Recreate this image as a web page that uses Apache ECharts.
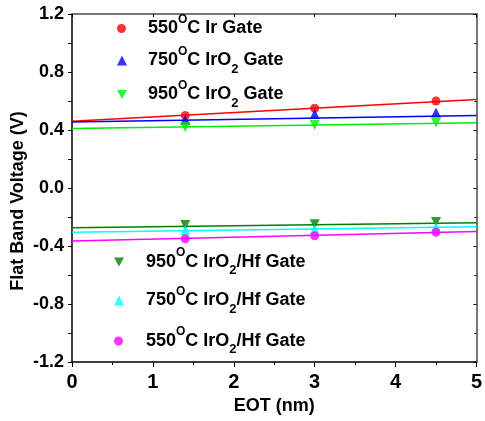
<!DOCTYPE html>
<html>
<head>
<meta charset="utf-8">
<script src="https://cdn.jsdelivr.net/npm/echarts@6/dist/echarts.min.js"></script>
<style>
  html, body { margin: 0; padding: 0; background: #fff; }
  #chart { width: 485px; height: 421px; }
</style>
</head>
<body>
<div id="chart"></div>
<script>
// EOT positions of the measured samples (nm)
const eot = [1.4, 3.0, 4.5]

// flat band voltages (V)
const ir550 = [0.50, 0.55, 0.60]
const iro2_750 = [0.47, 0.51, 0.52]
const iro2_950 = [0.42, 0.435, 0.45]
const hf950 = [-0.255, -0.25, -0.235]
const hf750 = [-0.29, -0.285, -0.27]
const hf550 = [-0.35, -0.33, -0.305]

// fitted lines, value at EOT = 0 and EOT = 5
const fitX = [0, 5]
const fitIr550 = [0.46, 0.61]
const fitIro2_750 = [0.455, 0.50]
const fitIro2_950 = [0.41, 0.45]
const fitHf950 = [-0.274, -0.24]
const fitHf750 = [-0.306, -0.267]
const fitHf550 = [-0.366, -0.30]

const yTicks = ['-1.2', '-0.8', '-0.4', '0.0', '0.4', '0.8', '1.2']

const downTri = 'path://M0,0 L10,0 L5,9 Z'
const font = 'Liberation Sans'

const names = [
    '550°C Ir Gate', '750°C IrO2 Gate', '950°C IrO2 Gate',
    '950°C IrO2/Hf Gate', '750°C IrO2/Hf Gate', '550°C IrO2/Hf Gate'
]
const richNames = {
    '550°C Ir Gate': '{t|550}{sup|O}{t|C Ir Gate}',
    '750°C IrO2 Gate': '{t|750}{sup|O}{t|C IrO}{sub|2}{t| Gate}',
    '950°C IrO2 Gate': '{t|950}{sup|O}{t|C IrO}{sub|2}{t| Gate}',
    '950°C IrO2/Hf Gate': '{t|950}{sup|O}{t|C IrO}{sub|2}{t|/Hf Gate}',
    '750°C IrO2/Hf Gate': '{t|750}{sup|O}{t|C IrO}{sub|2}{t|/Hf Gate}',
    '550°C IrO2/Hf Gate': '{t|550}{sup|O}{t|C IrO}{sub|2}{t|/Hf Gate}'
}

const pts = (ys) => eot.map((x, i) => [x, ys[i]])
const fit = (ys) => fitX.map((x, i) => [x, ys[i]])

const groups = [
    { vals: ir550, fit: fitIr550, color: '#ff0000', symbol: 'circle', size: 9 },
    { vals: iro2_750, fit: fitIro2_750, color: '#0000ff', symbol: 'triangle', size: 10 },
    { vals: iro2_950, fit: fitIro2_950, color: '#00ee00', symbol: downTri, size: 10 },
    { vals: hf950, fit: fitHf950, color: '#008000', symbol: downTri, size: 10 },
    { vals: hf750, fit: fitHf750, color: '#00ffff', symbol: 'triangle', size: 10 },
    { vals: hf550, fit: fitHf550, color: '#ff00ff', symbol: 'circle', size: 9 }
]

const series = []
groups.forEach((g, i) => {
    series.push({
        type: 'line',
        name: names[i] + ' fit',
        data: fit(g.fit),
        symbol: 'none',
        lineStyle: { color: g.color, width: 1.5 },
        z: 2
    })
    series.push({
        type: 'scatter',
        name: names[i],
        data: pts(g.vals),
        symbol: g.symbol,
        symbolSize: g.size,
        itemStyle: { color: g.color },
        z: 3
    })
})

const rich = {
    t: { fontSize: 18, fontWeight: 'bold', fontFamily: font, color: '#000', lineHeight: 30, verticalAlign: 'middle' },
    sup: { fontSize: 12, fontWeight: 'bold', fontFamily: font, color: '#000', lineHeight: 16, verticalAlign: 'top' },
    sub: { fontSize: 13, fontWeight: 'bold', fontFamily: font, color: '#000', lineHeight: 12, verticalAlign: 'bottom' }
}

// [left, top, text start x]
const legendPos = [
    [117, 13.5, 148], [117, 45.5, 148], [117, 79.5, 148],
    [114, 247, 146], [114, 285.5, 146], [114, 326, 146]
]

const legends = names.map((n, i) => ({
    data: [{ name: n, icon: groups[i].symbol }],
    left: legendPos[i][0],
    top: legendPos[i][1],
    padding: 0,
    itemWidth: groups[i].size,
    itemHeight: groups[i].size,
    itemGap: 0,
    selectedMode: false,
    formatter: (name) => richNames[name],
    textStyle: { rich: rich, padding: [0, 0, 0, legendPos[i][2] - legendPos[i][0] - groups[i].size - 5] }
}))

const chart = echarts.init(document.getElementById('chart'))

chart.setOption({
    animation: false,
    backgroundColor: '#fff',
    grid: { left: 72, right: 7, top: 14, bottom: 59 },
    legend: legends,
    xAxis: [
        {
            type: 'value',
            min: 0, max: 5, interval: 1,
            name: 'EOT (nm)',
            nameLocation: 'middle',
            nameGap: 34,
            nameTextStyle: { fontSize: 18, fontWeight: 'bold', fontFamily: font, color: '#000' },
            axisLine: { onZero: false, lineStyle: { color: '#000', width: 1.5 } },
            axisTick: { inside: false, length: 5, lineStyle: { color: '#000' } },
            minorTick: { show: true, splitNumber: 2, length: 3, lineStyle: { color: '#000' } },
            axisLabel: { fontSize: 20, fontWeight: 'bold', fontFamily: font, color: '#000', margin: 10 },
            splitLine: { show: false }
        },
        {
            type: 'value',
            position: 'top',
            min: 0, max: 5, interval: 1,
            axisLine: { show: true, onZero: false, lineStyle: { color: '#777', width: 2 } },
            axisTick: { inside: true, length: 3, lineStyle: { color: '#000' } },
            axisLabel: { show: false },
            splitLine: { show: false }
        }
    ],
    yAxis: [
        {
            type: 'value',
            min: -1.2, max: 1.2, interval: 0.4,
            axisLine: { show: true, onZero: false, lineStyle: { color: '#000', width: 1.5 } },
            axisTick: { show: true, inside: false, length: 4, lineStyle: { color: '#000' } },
            minorTick: { show: true, splitNumber: 2, length: 4, lineStyle: { color: '#000' } },
            axisLabel: {
                fontSize: 18, fontWeight: 'bold', fontFamily: font, color: '#000', margin: 8,
                formatter: (v) => yTicks.find(t => Math.abs(parseFloat(t) - v) < 1e-6) || ''
            },
            splitLine: { show: false }
        },
        {
            type: 'value',
            position: 'right',
            min: -1.2, max: 1.2, interval: 0.4,
            axisLine: { show: true, onZero: false, lineStyle: { color: '#777', width: 2 } },
            axisTick: { show: true, inside: true, length: 3, lineStyle: { color: '#000' } },
            minorTick: { show: true, splitNumber: 2, length: 2, lineStyle: { color: '#000' } },
            axisLabel: { show: false },
            splitLine: { show: false }
        }
    ],
    graphic: [
        {
            type: 'text',
            x: 18, y: 201,
            rotation: Math.PI / 2,
            style: {
                text: 'Flat Band Voltage (V)',
                fontSize: 18, fontWeight: 'bold', fontFamily: font, fill: '#000',
                align: 'center', verticalAlign: 'middle'
            }
        }
    ],
    series: series
})
</script>
</body>
</html>
